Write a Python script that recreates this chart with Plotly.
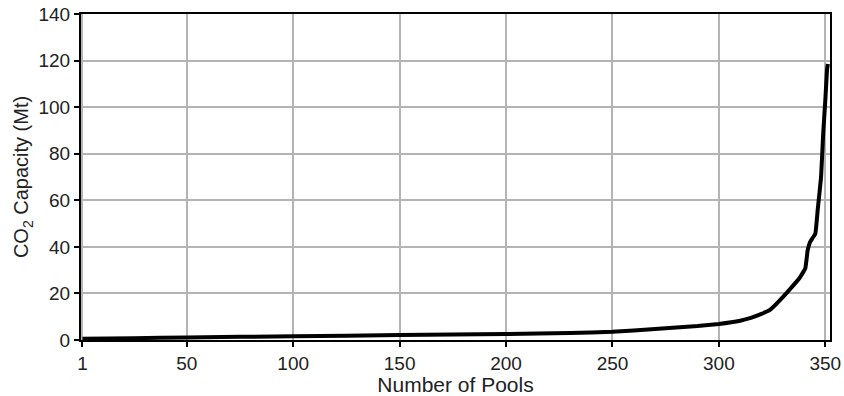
import plotly.graph_objects as go

pools = [1, 25, 50, 100, 150, 200, 230, 250, 270, 290, 300, 310, 315, 320, 324,
         328.6, 333, 337.8, 340.6, 341.7, 342.8, 345.3, 346.4, 348, 349, 350, 350.8, 351.2]
capacity = [0.5, 0.8, 1.1, 1.6, 2.1, 2.6, 3.0, 3.5, 4.7, 6.0, 6.9, 8.3, 9.5, 11.2, 12.9,
            17, 21.4, 26.5, 30.8, 38.5, 42, 45.7, 55.7, 70, 88.6, 103, 116, 118.5]

xticks = [1, 50, 100, 150, 200, 250, 300, 350]
yticks = [0, 20, 40, 60, 80, 100, 120, 140]

font = "Liberation Sans, Arial, sans-serif"

fig = go.Figure()
fig.add_trace(go.Scatter(x=pools, y=capacity, mode="lines",
                         line=dict(color="black", width=4, shape="spline", smoothing=0.3),
                         showlegend=False))

axis_common = dict(showline=True, linecolor="black", linewidth=2, mirror=True,
                   ticks="outside", ticklen=5, tickwidth=1.5, tickcolor="black",
                   showgrid=True, gridcolor="#b4b4b4", gridwidth=1.5, zeroline=False,
                   automargin=False,
                   tickfont=dict(family=font, size=19, color="#222"))

fig.update_xaxes(range=[0.3, 352.2], tickvals=xticks, ticktext=[str(t) for t in xticks],
                 title=dict(text="Number of Pools", font=dict(family=font, size=21, color="#222"), standoff=3),
                 **axis_common)
fig.update_yaxes(range=[0, 140], tickvals=yticks,
                 title=dict(text="CO<sub>2</sub> Capacity (Mt)", font=dict(family=font, size=20, color="#222"), standoff=4),
                 **axis_common)

fig.update_layout(width=844, height=396, margin=dict(l=81, r=14, t=14, b=56),
                  font=dict(family=font, size=19, color="#222"),
                  plot_bgcolor="white", paper_bgcolor="white")

fig.write_html("out.html", config={"displayModeBar": False},
               post_script="document.body.style.margin='0';document.body.style.overflow='hidden';")
